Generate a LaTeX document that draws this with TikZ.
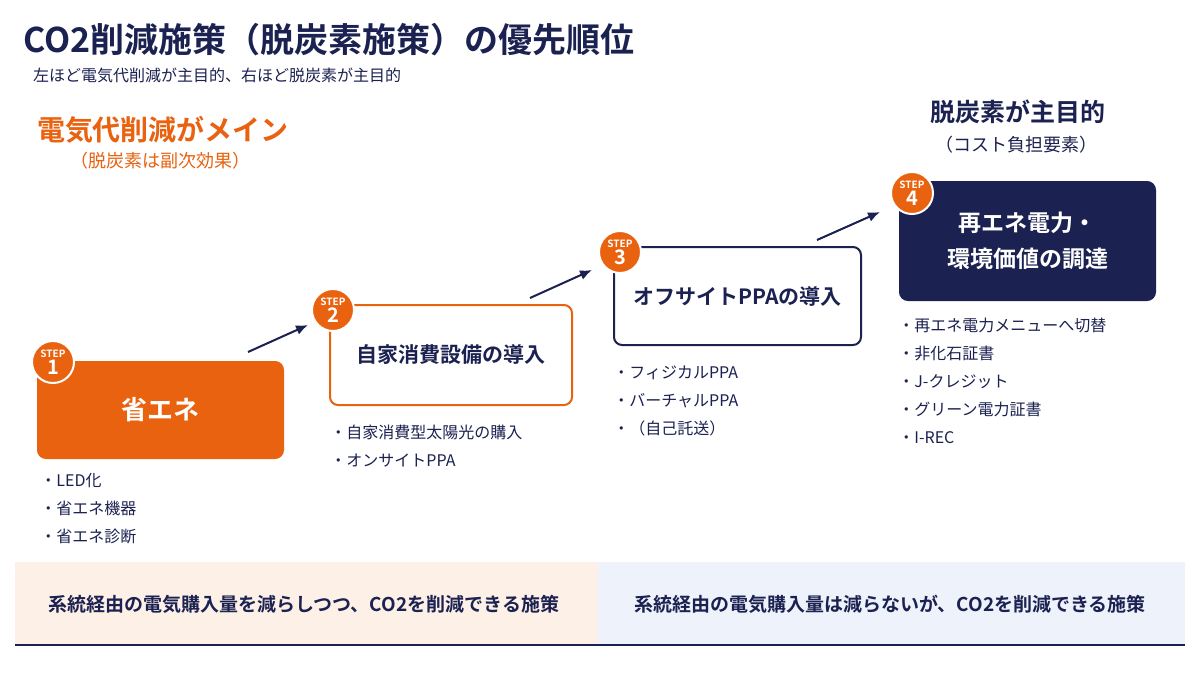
\documentclass[tikz,border=0pt]{standalone}
\usepackage{fontspec}
\setmainfont{Noto Sans CJK JP}[BoldFont={Noto Sans CJK JP Bold}]
\definecolor{ecoorange}{HTML}{E8620F}
\definecolor{econavy}{HTML}{1B2150}
\definecolor{ecopeach}{HTML}{FDF1E7}
\definecolor{ecoblue}{HTML}{EEF2FA}
\usetikzlibrary{arrows.meta, positioning}

\begin{document}
\begin{tikzpicture}[x=0.5pt, y=-0.5pt,
    stepbox/.style={rounded corners=4pt, line width=1pt, font=\bfseries\fontsize{10.5}{13}\selectfont, align=center, inner sep=0pt},
    stepdot/.style={circle, fill=ecoorange, draw=white, line width=1pt, minimum size=21pt, inner sep=0pt, text=white, align=center, font=\bfseries\fontsize{5}{8.5}\selectfont},
    bullets/.style={anchor=north west, align=left, text=econavy, font=\fontsize{8}{14}\selectfont, inner sep=0pt},
    upstep/.style={-{Latex[length=6pt,width=5pt]}, econavy, line width=1pt}]
        % Frame
        \useasboundingbox (0,0) rectangle (1200,675);
        \fill[white] (0,0) rectangle (1200,675);
        % Title
        \node[anchor=west, text=econavy, font=\bfseries\fontsize{17}{20}\selectfont] (title) at (16,40) {CO2削減施策（脱炭素施策）の優先順位};
        \node[anchor=west, text=econavy, font=\fontsize{8}{9}\selectfont] (subtitle) at (26,75) {左ほど電気代削減が主目的、右ほど脱炭素が主目的};
        % Headings
        \node[text=ecoorange, font=\bfseries\fontsize{14}{15}\selectfont] (mainL) at (163,130) {電気代削減がメイン};
        \node[text=ecoorange, font=\fontsize{9}{10}\selectfont] (subL) at (160,161) {（脱炭素は副次効果）};
        \node[text=econavy, font=\bfseries\fontsize{12.5}{14}\selectfont] (mainR) at (1018,112) {脱炭素が主目的};
        \node[text=econavy, font=\fontsize{9}{10}\selectfont] (subR) at (1016,145) {（コスト負担要素）};
        % Step boxes
        \node[stepbox, fill=ecoorange, draw=ecoorange, text=white, minimum width=122.5pt, minimum height=48pt, font=\bfseries\fontsize{13}{15}\selectfont] (s1) at (160.5,410) {省エネ};
        \node[stepbox, fill=white, draw=ecoorange, text=econavy, minimum width=121pt, minimum height=50pt] (s2) at (451,355) {自家消費設備の導入};
        \node[stepbox, fill=white, draw=econavy, text=econavy, minimum width=123.5pt, minimum height=49pt] (s3) at (737.5,296) {オフサイトPPAの導入};
        \node[stepbox, fill=econavy, draw=econavy, text=white, minimum width=127.5pt, minimum height=59pt, font=\bfseries\fontsize{11.5}{18}\selectfont] (s4) at (1027.5,241) {再エネ電力・\\環境価値の調達};
        % Step badges
        \node[stepdot] (d1) at (53,362) {STEP\\{\fontsize{10}{10}\selectfont 1}};
        \node[stepdot] (d2) at (333,310) {STEP\\{\fontsize{10}{10}\selectfont 2}};
        \node[stepdot] (d3) at (620,252) {STEP\\{\fontsize{10}{10}\selectfont 3}};
        \node[stepdot] (d4) at (912,193) {STEP\\{\fontsize{10}{10}\selectfont 4}};
        % Arrows between steps
        \coordinate (a1) at (248,352);
        \coordinate (b1) at (308,325);
        \coordinate (a2) at (530,298);
        \coordinate (b2) at (592,270);
        \coordinate (a3) at (817,240);
        \coordinate (b3) at (880,212);
        \draw[upstep] (a1) -- (b1);
        \draw[upstep] (a2) -- (b2);
        \draw[upstep] (a3) -- (b3);
        % Bullet lists
        \node[bullets] (l1) at (40,473) {・LED化\\・省エネ機器\\・省エネ診断};
        \node[bullets] (l2) at (330,425) {・自家消費型太陽光の購入\\・オンサイトPPA};
        \node[bullets] (l3) at (613,365) {・フィジカルPPA\\・バーチャルPPA\\・（自己託送）};
        \node[bullets] (l4) at (898,318) {・再エネ電力メニューへ切替\\・非化石証書\\・J-クレジット\\・グリーン電力証書\\・I-REC};
        % Bottom band
        \fill[ecopeach] (15,562) rectangle (598,645);
        \fill[ecoblue] (598,562) rectangle (1185,645);
        \draw[econavy, line width=0.6pt] (15,645) -- (1185,645);
        \node[text=econavy, font=\bfseries\fontsize{9.5}{10}\selectfont] (bandL) at (304,604) {系統経由の電気購入量を減らしつつ、CO2を削減できる施策};
        \node[text=econavy, font=\bfseries\fontsize{9.5}{10}\selectfont] (bandR) at (890,604) {系統経由の電気購入量は減らないが、CO2を削減できる施策};
      \end{tikzpicture}
\end{document}
